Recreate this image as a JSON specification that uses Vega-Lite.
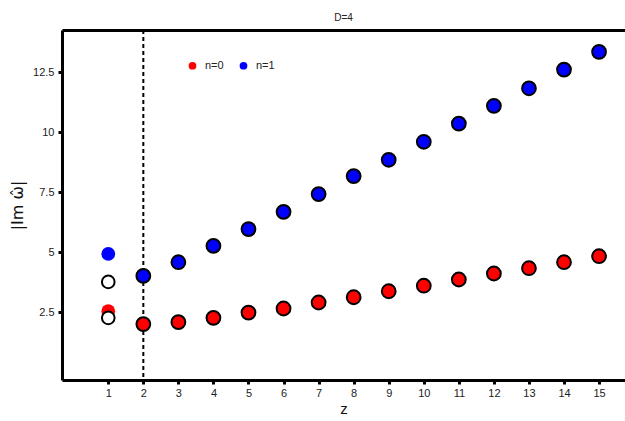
{
  "$schema": "https://vega.github.io/schema/vega-lite/v6.json",
  "width": 563,
  "height": 350,
  "autosize": {"type": "none"},
  "padding": {"left": 62, "top": 30, "right": 0, "bottom": 41},
  "background": "white",
  "view": {"stroke": null},
  "title": {"text": "D=4", "fontSize": 10, "font": "Liberation Sans", "fontWeight": "normal", "color": "#222", "anchor": "middle", "offset": 6},
  "config": {
    "font": "Liberation Sans",
    "axis": {"domainColor": "black", "domainWidth": 3, "tickColor": "black", "tickWidth": 3, "tickSize": 4, "labelFont": "Liberation Sans", "labelFontSize": 11, "labelColor": "#222", "grid": false, "titleFont": "Liberation Sans", "titleFontWeight": "normal", "titleColor": "#111"}
  },
  "datasets": {
    "pts": [
      {"z": 2, "v": 2.00, "n": "n=0"},
      {"z": 3, "v": 2.08, "n": "n=0"},
      {"z": 4, "v": 2.26, "n": "n=0"},
      {"z": 5, "v": 2.48, "n": "n=0"},
      {"z": 6, "v": 2.65, "n": "n=0"},
      {"z": 7, "v": 2.90, "n": "n=0"},
      {"z": 8, "v": 3.12, "n": "n=0"},
      {"z": 9, "v": 3.37, "n": "n=0"},
      {"z": 10, "v": 3.60, "n": "n=0"},
      {"z": 11, "v": 3.86, "n": "n=0"},
      {"z": 12, "v": 4.11, "n": "n=0"},
      {"z": 13, "v": 4.33, "n": "n=0"},
      {"z": 14, "v": 4.58, "n": "n=0"},
      {"z": 15, "v": 4.83, "n": "n=0"},
      {"z": 2, "v": 4.01, "n": "n=1"},
      {"z": 3, "v": 4.58, "n": "n=1"},
      {"z": 4, "v": 5.26, "n": "n=1"},
      {"z": 5, "v": 5.96, "n": "n=1"},
      {"z": 6, "v": 6.68, "n": "n=1"},
      {"z": 7, "v": 7.42, "n": "n=1"},
      {"z": 8, "v": 8.17, "n": "n=1"},
      {"z": 9, "v": 8.85, "n": "n=1"},
      {"z": 10, "v": 9.60, "n": "n=1"},
      {"z": 11, "v": 10.36, "n": "n=1"},
      {"z": 12, "v": 11.10, "n": "n=1"},
      {"z": 13, "v": 11.83, "n": "n=1"},
      {"z": 14, "v": 12.61, "n": "n=1"},
      {"z": 15, "v": 13.35, "n": "n=1"}
    ],
    "solo": [
      {"z": 1, "v": 2.54, "n": "n=0"},
      {"z": 1, "v": 4.93, "n": "n=1"}
    ],
    "open": [
      {"z": 1, "v": 2.26},
      {"z": 1, "v": 3.76}
    ],
    "vline": [{"z": 2}]
  },
  "layer": [
    {
      "data": {"name": "vline"},
      "mark": {"type": "rule", "color": "black", "strokeWidth": 2, "strokeDash": [4, 3]},
      "encoding": {
        "x": {"field": "z", "type": "quantitative", "scale": {"domain": [-0.32, 15.74], "nice": false, "zero": false}, "axis": {"orient": "top", "title": null, "labels": false, "ticks": false, "domainWidth": 3}}
      }
    },
    {
      "data": {"name": "solo"},
      "mark": {"type": "point", "filled": true, "size": 190, "opacity": 1},
      "encoding": {
        "x": {"field": "z", "type": "quantitative", "scale": {"domain": [-0.32, 15.74], "nice": false, "zero": false}, "axis": null},
        "y": {"field": "v", "type": "quantitative", "scale": {"domain": [-0.33, 14.26], "nice": false, "zero": false}},
        "color": {"field": "n", "type": "nominal", "scale": {"domain": ["n=0", "n=1"], "range": ["#ff0000", "#0000ff"]}}
      }
    },
    {
      "data": {"name": "open"},
      "mark": {"type": "point", "filled": false, "fill": "white", "fillOpacity": 1, "stroke": "black", "strokeWidth": 2, "size": 160, "opacity": 1},
      "encoding": {
        "x": {"field": "z", "type": "quantitative", "scale": {"domain": [-0.32, 15.74], "nice": false, "zero": false}, "axis": null},
        "y": {"field": "v", "type": "quantitative", "scale": {"domain": [-0.33, 14.26], "nice": false, "zero": false}}
      }
    },
    {
      "data": {"name": "pts"},
      "mark": {"type": "point", "filled": true, "size": 190, "stroke": "black", "strokeWidth": 2, "opacity": 1},
      "encoding": {
        "x": {"field": "z", "type": "quantitative", "scale": {"domain": [-0.32, 15.74], "nice": false, "zero": false}, "axis": {"orient": "bottom", "title": "z", "titleFontSize": 15, "titlePadding": 3, "values": [1,2,3,4,5,6,7,8,9,10,11,12,13,14,15], "format": "d", "labelPadding": 3}},
        "y": {"field": "v", "type": "quantitative", "scale": {"domain": [-0.33, 14.26], "nice": false, "zero": false}, "axis": {"title": "|Im ω̂|", "titleFont": "DejaVu Sans", "titleFontSize": 16, "titlePadding": 7, "values": [2.5, 5, 7.5, 10, 12.5], "labelExpr": "'' + datum.value", "labelPadding": 4}},
        "color": {"field": "n", "type": "nominal", "scale": {"domain": ["n=0", "n=1"], "range": ["#ff0000", "#0000ff"]}, "legend": {"orient": "none", "legendX": 125, "legendY": 30, "direction": "horizontal", "title": null, "symbolType": "circle", "symbolSize": 60, "symbolStrokeWidth": 0, "labelFontSize": 11, "labelColor": "#222", "labelOffset": 7, "columnPadding": 14, "symbolOffset": 0}}
      }
    }
  ],
  "resolve": {"axis": {"x": "independent"}}
}
